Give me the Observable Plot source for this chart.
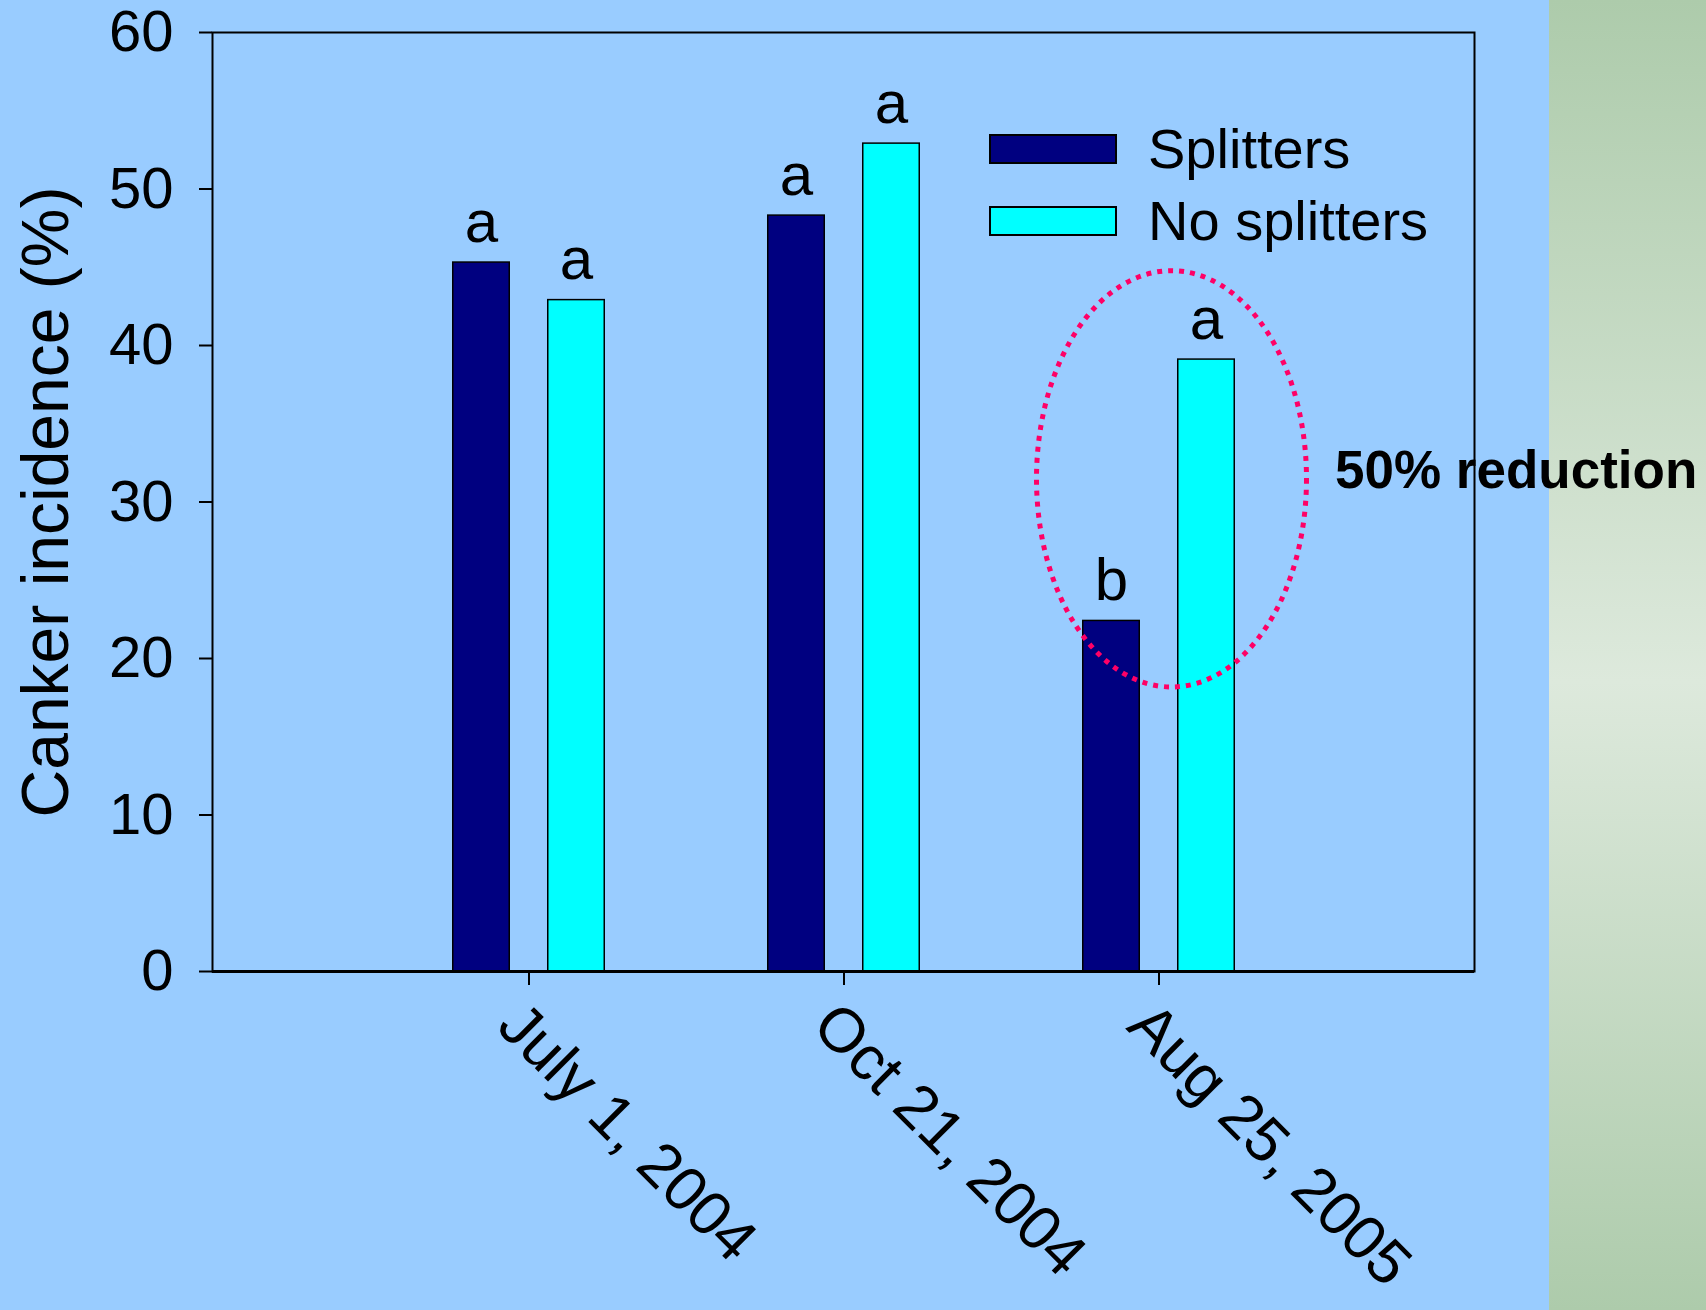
<!DOCTYPE html>
<html><head><meta charset="utf-8">
<script src="https://cdn.jsdelivr.net/npm/d3@7"></script>
<script src="https://cdn.jsdelivr.net/npm/@observablehq/plot@0.6"></script>
<style>
html,body{margin:0;padding:0;}
body{width:1706px;height:1310px;background:#99ccff;position:relative;overflow:hidden;font-family:"Liberation Sans",Arial,sans-serif;}
#panel{position:absolute;left:1549px;top:0;width:157px;height:1310px;background:linear-gradient(to bottom,#adcbab 0%,#dde9dc 52%,#adcbab 100%);}
#chart{position:absolute;left:0;top:0;}
</style></head><body>
<div id="panel"></div><div id="chart"></div>
<script>
// ---- data ----
const dates = ["July 1, 2004", "Oct 21, 2004", "Aug 25, 2005"];
const series = ["Splitters", "No splitters"];
const splitters = [45.3, 48.3, 22.4];
const noSplitters = [42.9, 52.9, 39.1];
const splittersLetters = ["a", "a", "b"];
const noSplittersLetters = ["a", "a", "a"];
const yTicks = [0, 10, 20, 30, 40, 50, 60];
const seriesColors = ["#000080", "#00ffff"];
const yLabel = "Canker incidence (%)";
// annotation (highlight of the last date)
const noteDate = "Aug 25, 2005";
const noteText = "50% reduction";
const noteY = 30.9;
const ellipseCenterY = 31.45;
const ellipseRadiusY = 13.3;

const rowsS = dates.map((d, i) => ({date: d, value: splitters[i], letter: splittersLetters[i]}));
const rowsN = dates.map((d, i) => ({date: d, value: noSplitters[i], letter: noSplittersLetters[i]}));

const FONT = "Liberation Sans, Arial, sans-serif";
const barOff = 47.5;

function ellipseMark(index, scales) {
  const x = scales.x, y = scales.y;
  const bw = x.bandwidth ? x.bandwidth() : 0;
  const cx = x(noteDate) + bw / 2 + 13;
  const cy = y(ellipseCenterY);
  const ry = y(ellipseCenterY - ellipseRadiusY) - cy;
  const e = d3.create("svg:ellipse")
    .attr("cx", cx).attr("cy", cy).attr("rx", 135).attr("ry", ry)
    .attr("fill", "none").attr("stroke", "#ff0066").attr("stroke-width", 5)
    .attr("stroke-dasharray", "5 6");
  return e.node();
}

function legendMark() {
  const g = d3.create("svg:g");
  series.forEach((name, i) => {
    const y0 = 135 + i * 72;
    g.append("rect").attr("x", 990).attr("y", y0).attr("width", 126).attr("height", 28)
      .attr("fill", seriesColors[i]).attr("stroke", "black").attr("stroke-width", 2);
    g.append("text").attr("x", 1148).attr("y", y0 + 33).attr("fill", "black")
      .attr("text-anchor", "start")
      .attr("font-size", 56).attr("font-family", FONT).text(name);
  });
  return g.node();
}

const chart = Plot.plot({
  width: 1706,
  height: 1310,
  marginLeft: 212,
  marginRight: 232,
  marginTop: 32,
  marginBottom: 339,
  style: {background: "transparent", fontFamily: FONT, color: "black", overflow: "visible"},
  x: {type: "band", domain: dates, paddingInner: 0, paddingOuter: 0.5},
  y: {domain: [0, 60]},
  marks: [
    Plot.barY(rowsS, {x: "date", y: "value", fill: seriesColors[0], stroke: "black", strokeWidth: 1.5,
      insetLeft: 129.25, insetRight: 129.25, dx: -barOff}),
    Plot.barY(rowsN, {x: "date", y: "value", fill: seriesColors[1], stroke: "black", strokeWidth: 1.5,
      insetLeft: 129.25, insetRight: 129.25, dx: barOff}),
    Plot.text(rowsS, {x: "date", y: "value", text: "letter", dx: -barOff, dy: -21, lineAnchor: "bottom", fontSize: 60, fill: "black"}),
    Plot.text(rowsN, {x: "date", y: "value", text: "letter", dx: barOff, dy: -21, lineAnchor: "bottom", fontSize: 60, fill: "black"}),
    ellipseMark,
    Plot.text([noteText], {x: () => noteDate, y: () => noteY, text: d => d, textAnchor: "start", lineAnchor: "bottom",
      dx: 176, fontSize: 53, fontWeight: "bold", fill: "black"}),
    Plot.frame({stroke: "black", strokeWidth: 2}),
    Plot.ruleY([0], {stroke: "black", strokeWidth: 3}),
    Plot.axisY({ticks: yTicks, tickSize: 13, tickPadding: 26, fontSize: 58, label: null, tickFormat: d => String(d), strokeWidth: 2}),
    Plot.axisX({tickSize: 14, tickFormat: () => "", label: null, strokeWidth: 2}),
    Plot.text(dates, {x: d => d, frameAnchor: "bottom", text: d => d, rotate: 45, textAnchor: "start", lineAnchor: "middle",
      dx: -20, dy: 43, fontSize: 62, fill: "black"}),
    Plot.text([yLabel], {frameAnchor: "left", text: d => d, rotate: -90, textAnchor: "middle", dx: -166, fontSize: 66, fill: "black"}),
    legendMark
  ]
});
document.getElementById("chart").appendChild(chart);
</script>
</body></html>
